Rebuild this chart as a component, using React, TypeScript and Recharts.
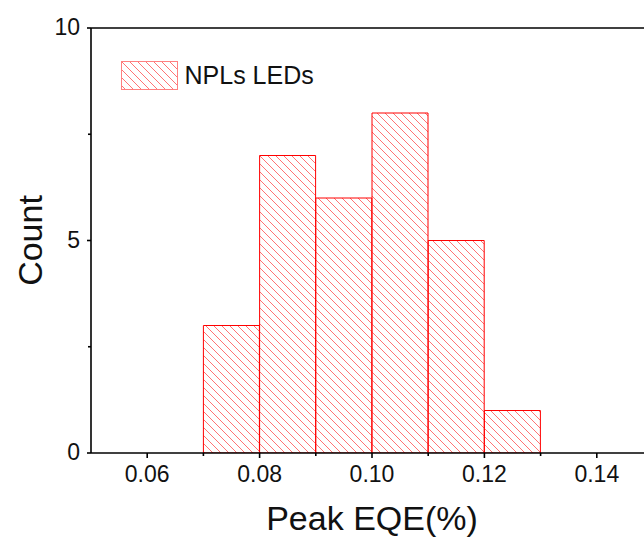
import React from 'react';
import { BarChart, Bar, XAxis, YAxis, Legend, ReferenceLine } from 'recharts';

const binLabels = ['0.05', '0.06', '0.07', '0.08', '0.09', '0.10', '0.11', '0.12', '0.13', '0.14'];
const binCenters = [0.055, 0.065, 0.075, 0.085, 0.095, 0.105, 0.115, 0.125, 0.135, 0.145];
const counts = [0, 0, 3, 7, 6, 8, 5, 1, 0, 0];
const xTicks = [0.06, 0.07, 0.08, 0.09, 0.1, 0.11, 0.12, 0.13, 0.14];
const xMajor = [0.06, 0.08, 0.1, 0.12, 0.14];
const yTicks = [0, 2.5, 5, 7.5, 10];
const yMajor = [0, 5, 10];
const seriesName = 'NPLs LEDs';
const xTitle = 'Peak EQE(%)';
const yTitle = 'Count';

const data = binLabels.map((b, i) => ({ bin: b, center: binCenters[i], count: counts[i] }));

const FONT = '"Liberation Sans", Arial, sans-serif';
const AXIS_W = 1.6;

const isIn = (arr: number[], v: number) => arr.some((m) => Math.abs(m - v) < 1e-9);

const XTick = (props: any) => {
  const { x, y, payload } = props;
  const v = payload.value as number;
  const major = isIn(xMajor, v);
  return (
    <g>
      <line x1={x} x2={x} y1={y} y2={y + (major ? 5 : 3)} stroke="#000" strokeWidth={AXIS_W} />
      {major && (
        <text x={x} y={y + 29} textAnchor="middle" fontSize={23} fill="#111" fontFamily={FONT}>
          {v.toFixed(2)}
        </text>
      )}
    </g>
  );
};

const YTick = (props: any) => {
  const { x, y, payload } = props;
  const v = payload.value as number;
  const major = isIn(yMajor, v);
  return (
    <g>
      <line x1={x - (major ? 4 : 3)} x2={x} y1={y} y2={y} stroke="#000" strokeWidth={AXIS_W} />
      {major && (
        <text x={x - 11} y={y + 7} textAnchor="end" fontSize={23} fill="#111" fontFamily={FONT}>
          {String(v)}
        </text>
      )}
    </g>
  );
};

const HatchPattern = ({ id }: { id: string }) => (
  <pattern id={id} patternUnits="userSpaceOnUse" width={8} height={8}>
    <path d="M-2,-2 L10,10 M-2,6 L2,10 M6,-2 L10,2" stroke="#ff5050" strokeWidth={0.8} />
  </pattern>
);

const LegendContent = () => (
  <div style={{ display: 'flex', alignItems: 'center', fontFamily: FONT }}>
    <svg width={57} height={29} style={{ display: 'block' }}>
      <defs>
        <HatchPattern id="hatchLegend" />
      </defs>
      <rect x={0.5} y={0.5} width={56} height={28} fill="url(#hatchLegend)" stroke="#ff8080" strokeWidth={1} />
    </svg>
    <span style={{ marginLeft: 7, fontSize: 25, color: '#111', lineHeight: '29px' }}>{seriesName}</span>
  </div>
);

export default function App() {
  return (
    <div style={{ position: 'fixed', left: 8, top: 8, width: 636, height: 534, overflow: 'hidden', background: '#fff' }}>
      <BarChart
        width={655}
        height={534}
        data={data}
        margin={{ top: 20, right: 10, left: 23, bottom: 29 }}
        barCategoryGap={0}
        barGap={0}
      >
        <defs>
          <HatchPattern id="hatchBar" />
        </defs>
        <XAxis xAxisId="cat" dataKey="bin" type="category" orientation="top" height={0} hide />
        <XAxis
          xAxisId="num"
          dataKey="center"
          type="number"
          domain={[0.05, 0.15]}
          allowDataOverflow
          ticks={xTicks}
          interval={0}
          height={60}
          tickSize={0}
          tickMargin={0}
          tickLine={false}
          tick={<XTick />}
          axisLine={{ stroke: '#000', strokeWidth: AXIS_W }}
          label={(p: any) => {
            const vb = p.viewBox;
            return (
              <text x={vb.x + vb.width / 2} y={vb.y + 77} textAnchor="middle" fontSize={34} fill="#111" fontFamily={FONT}>
                {xTitle}
              </text>
            );
          }}
        />
        <YAxis
          type="number"
          domain={[0, 10]}
          allowDataOverflow
          ticks={yTicks}
          interval={0}
          width={60}
          tickSize={0}
          tickMargin={0}
          tickLine={false}
          tick={<YTick />}
          axisLine={{ stroke: '#000', strokeWidth: AXIS_W }}
          label={(p: any) => {
            const vb = p.viewBox;
            const cx = vb.x + 10.7;
            const cy = vb.y + vb.height / 2;
            return (
              <text x={cx} y={cy} textAnchor="middle" fontSize={34} fill="#111" fontFamily={FONT} transform={`rotate(-90, ${cx}, ${cy})`}>
                {yTitle}
              </text>
            );
          }}
        />
        <ReferenceLine xAxisId="num" y={10} stroke="#000" strokeWidth={AXIS_W} ifOverflow="visible" />
        <ReferenceLine xAxisId="num" x={0.15} stroke="#000" strokeWidth={AXIS_W} ifOverflow="visible" />
        <Bar
          xAxisId="cat"
          dataKey="count"
          name={seriesName}
          fill="url(#hatchBar)"
          stroke="#ff0000"
          strokeWidth={1}
          isAnimationActive={false}
        />
        <Legend
          layout="vertical"
          align="center"
          verticalAlign="middle"
          content={<LegendContent />}
          wrapperStyle={{ left: 112.5, top: 52.5, width: 'auto', height: 'auto' }}
        />
      </BarChart>
    </div>
  );
}
